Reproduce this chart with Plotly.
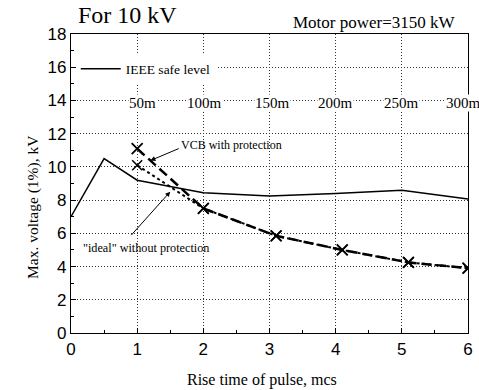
import plotly.graph_objects as go

# ---- data ----
rise_time_ieee = [0, 0.5, 1, 2, 3, 4, 5, 6]
ieee_safe_level = [7.0, 10.5, 9.2, 8.45, 8.25, 8.4, 8.6, 8.07]

rise_time_prot = [1, 2, 3.1, 4.1, 5.1, 6]
vcb_with_protection = [11.1, 7.5, 5.85, 5.0, 4.25, 3.9]
ideal_without_protection = [10.1, 7.5, 5.85, 5.0, 4.25, 3.9]

cable_labels = ["50m", "100m", "150m", "200m", "250m", "300m"]
cable_label_x = [1.08, 2.02, 3.05, 4.0, 5.0, 5.93]
cable_label_y = 13.85

x_ticks = [0, 1, 2, 3, 4, 5, 6]
y_ticks = [0, 2, 4, 6, 8, 10, 12, 14, 16, 18]

SERIF = "Liberation Serif, Times New Roman, serif"
SANS = "Liberation Sans, Arial, sans-serif"

fig = go.Figure()

fig.add_trace(go.Scatter(
    x=rise_time_ieee, y=ieee_safe_level, mode="lines",
    name="IEEE safe level", line=dict(color="black", width=1.5),
    showlegend=True,
))
fig.add_trace(go.Scatter(
    x=rise_time_prot, y=ideal_without_protection, mode="lines+markers",
    name='"ideal" without protection',
    line=dict(color="black", width=2, dash="dot"),
    marker=dict(symbol="x-thin", size=10, line=dict(color="black", width=1.5)),
    showlegend=False,
))
fig.add_trace(go.Scatter(
    x=rise_time_prot, y=vcb_with_protection, mode="lines+markers",
    name="VCB with protection",
    line=dict(color="black", width=2.5, dash="10px,5px"),
    marker=dict(symbol="x-thin", size=11, line=dict(color="black", width=1.8)),
    showlegend=False,
))

annotations = []
for lab, lx in zip(cable_labels, cable_label_x):
    annotations.append(dict(
        x=lx, y=cable_label_y, xref="x", yref="y", text=lab, showarrow=False,
        font=dict(family=SERIF, size=15, color="black"), bgcolor="white",
        borderpad=0,
    ))

# arrow annotations
annotations.append(dict(
    x=1.20, y=10.38, ax=1.65, ay=11.14, xref="x", yref="y", axref="x", ayref="y",
    text="", showarrow=True, arrowhead=2, arrowsize=1, arrowwidth=1, arrowcolor="black",
))
annotations.append(dict(
    x=2.43, y=11.33, xref="x", yref="y", text="VCB with protection", showarrow=False,
    font=dict(family=SERIF, size=12, color="black"),
))
annotations.append(dict(
    x=1.50, y=8.51, ax=0.89, ay=5.8, xref="x", yref="y", axref="x", ayref="y",
    text="", showarrow=True, arrowhead=2, arrowsize=1, arrowwidth=1, arrowcolor="black",
))
annotations.append(dict(
    x=1.14, y=5.1, xref="x", yref="y", text='"ideal" without protection', showarrow=False,
    font=dict(family=SERIF, size=12.2, color="black"),
))

# titles
annotations.append(dict(
    x=(76 - 71) / 397, y=(333 - 15) / 299, xref="paper", yref="paper",
    xanchor="left", yanchor="middle", text="For 10 kV", showarrow=False,
    font=dict(family=SERIF, size=24, color="black"),
))
annotations.append(dict(
    x=(374 - 71) / 397, y=(333 - 22) / 299, xref="paper", yref="paper",
    xanchor="center", yanchor="middle", text="Motor power=3150 kW", showarrow=False,
    font=dict(family=SERIF, size=17, color="black"),
))
annotations.append(dict(
    x=(262 - 71) / 397, y=(333 - 380) / 299, xref="paper", yref="paper",
    xanchor="center", yanchor="middle", text="Rise time of pulse, mcs", showarrow=False,
    font=dict(family=SERIF, size=16, color="black"),
))
annotations.append(dict(
    x=(33 - 71) / 397, y=(333 - 207) / 299, xref="paper", yref="paper",
    xanchor="center", yanchor="middle", text="Max. voltage (1%), kV", showarrow=False,
    textangle=-90, font=dict(family=SERIF, size=15.5, color="black"),
))

axis_common = dict(
    showline=True, linecolor="black", linewidth=1.2, mirror=True,
    ticks="inside", ticklen=5, tickcolor="black", tickwidth=1,
    showgrid=True, gridcolor="#333333", gridwidth=1, griddash="1px,2px",
    zeroline=False, automargin=False,
    tickfont=dict(family=SANS, size=17, color="black"),
)

fig.update_layout(
    width=479, height=390,
    margin=dict(l=71, r=11, t=34, b=57),
    paper_bgcolor="white", plot_bgcolor="white",
    annotations=annotations,
    xaxis=dict(range=[0, 6], tickvals=x_ticks,
               minor=dict(dtick=0.5, ticks="inside", ticklen=3, tickcolor="black", showgrid=False),
               **axis_common),
    yaxis=dict(range=[0, 18], tickvals=y_ticks,
               minor=dict(dtick=1, ticks="inside", ticklen=3, tickcolor="black", showgrid=False),
               **axis_common),
    legend=dict(x=0.012, y=0.935, xanchor="left", yanchor="top",
                bgcolor="white", borderwidth=0,
                font=dict(family=SERIF, size=13.5, color="black"),
                itemwidth=40, tracegroupgap=0),
)

fig.write_html("out.html", config={"displayModeBar": False},
               post_script="document.body.style.margin='0';")
